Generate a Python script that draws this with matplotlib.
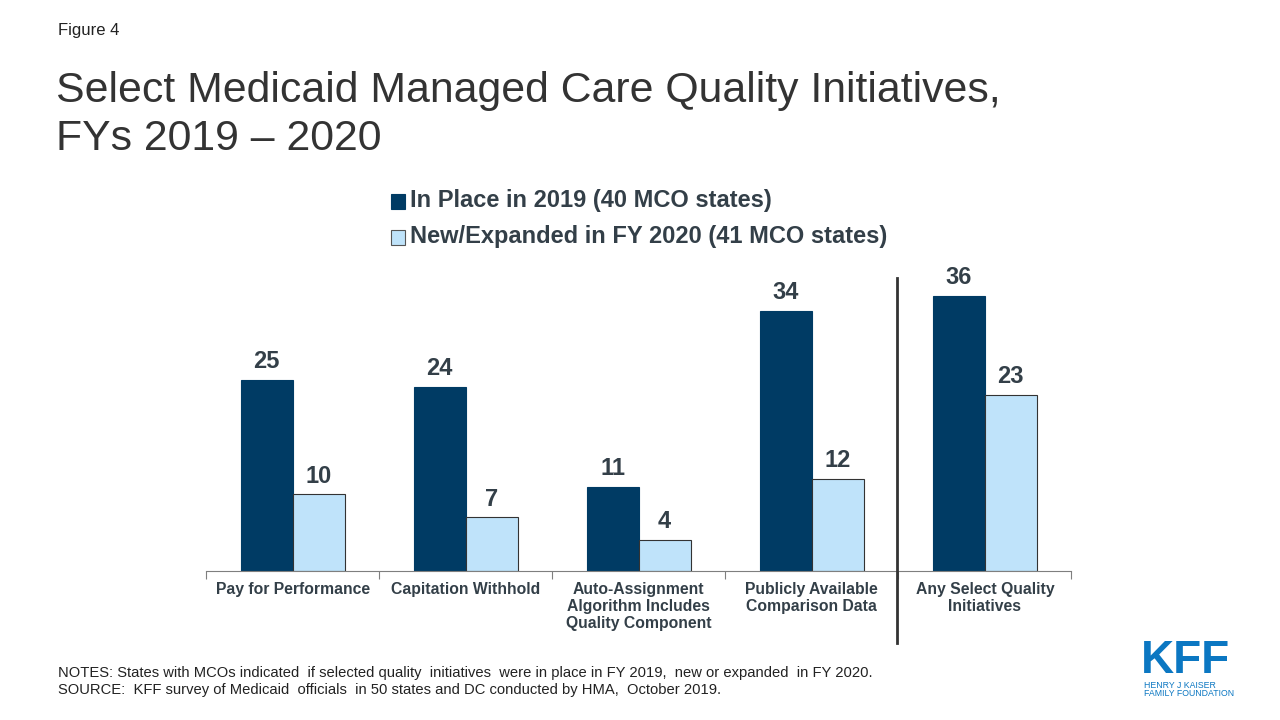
# Medicaid managed care quality initiatives - grouped bar chart
import matplotlib.pyplot as plt
import numpy as np

categories = ['Pay for Performance', 'Capitation Withhold',
              'Auto-Assignment\nAlgorithm Includes\nQuality Component',
              'Publicly Available\nComparison Data',
              'Any Select Quality\nInitiatives']
in_place_2019 = [25, 24, 11, 34, 36]
new_expanded_2020 = [10, 7, 4, 12, 23]
series_labels = ['In Place in 2019 (40 MCO states)',
                 'New/Expanded in FY 2020 (41 MCO states)']

DARK = '#003B64'
LIGHT = '#BFE3FA'
TEXT = '#333F48'
SANS = ['Liberation Sans', 'DejaVu Sans']


def main():
    plt.rcParams['font.family'] = SANS
    fig = plt.figure(figsize=(12.8, 7.2), dpi=100)
    ax = fig.add_axes([0.161, 0.207, 0.676, 0.425])

    x = np.arange(len(categories))
    width = 0.30
    ax.bar(x - width / 2, in_place_2019, width, color=DARK, edgecolor=DARK, linewidth=0.8)
    ax.bar(x + width / 2, new_expanded_2020, width, color=LIGHT, edgecolor='#333333', linewidth=0.8)

    for xi, v in zip(x, in_place_2019):
        ax.text(xi - width / 2, v + 0.9, str(v), ha='center', va='bottom',
                fontsize=17, fontweight='bold', color=TEXT)
    for xi, v in zip(x, new_expanded_2020):
        ax.text(xi + width / 2, v + 0.9, str(v), ha='center', va='bottom',
                fontsize=17, fontweight='bold', color=TEXT)

    ax.set_xlim(-0.5, len(categories) - 0.5)
    ax.set_ylim(0, 40)
    ax.set_yticks([])
    for s in ['top', 'right', 'left']:
        ax.spines[s].set_visible(False)
    ax.spines['bottom'].set_color('#7f7f7f')
    ax.set_xticks(np.arange(-0.5, len(categories)))
    ax.set_xticklabels([])
    ax.tick_params(axis='x', length=6, color='#7f7f7f')
    for xi, lab in zip(x, categories):
        ax.text(xi, -1.4, lab, ha='center', va='top', fontsize=11.3,
                fontweight='bold', color=TEXT, linespacing=1.2)

    # separator between the individual initiatives and the total
    fig.add_artist(plt.Line2D([897 / 1280, 897 / 1280], [1 - 278 / 720, 1 - 643 / 720],
                              color='#333333', linewidth=2))

    # legend
    for i, (lab, col) in enumerate(zip(series_labels, [DARK, LIGHT])):
        yy = 1 - (201 + 36 * i) / 720
        fig.patches.append(plt.Rectangle((391 / 1280, yy - 0.0105), 14 / 1280, 15 / 720,
                                         transform=fig.transFigure, facecolor=col,
                                         edgecolor='#555555' if i else col, linewidth=0.8))
        fig.text(410 / 1280, yy, lab, fontsize=17, fontweight='bold', color=TEXT,
                 va='center', ha='left')

    fig.text(58 / 1280, 1 - 30 / 720, 'Figure 4', fontsize=12, color='#222222', va='center')
    fig.text(56 / 1280, 1 - 71 / 720, 'Select Medicaid Managed Care Quality Initiatives,\nFYs 2019 \u2013 2020',
             fontsize=30.8, color='#333333', va='top', ha='left', linespacing=1.26)

    fig.text(58 / 1280, 1 - 673 / 720,
             'NOTES: States with MCOs indicated  if selected quality  initiatives  were in place in FY 2019,  new or expanded  in FY 2020.',
             fontsize=10.6, color='#222222', va='center')
    fig.text(58 / 1280, 1 - 690 / 720,
             'SOURCE:  KFF survey of Medicaid  officials  in 50 states and DC conducted by HMA,  October 2019.',
             fontsize=10.6, color='#222222', va='center')

    # KFF logo
    fig.text(1141 / 1280, 1 - 683 / 720, 'KFF', fontsize=33, fontweight='bold',
             color='#0B77C2', va='bottom', ha='left')
    fig.text(1144 / 1280, 1 - 685 / 720, 'HENRY J KAISER', fontsize=6.3,
             color='#0B77C2', va='center', ha='left')
    fig.text(1144 / 1280, 1 - 694 / 720, 'FAMILY FOUNDATION', fontsize=6.3,
             color='#0B77C2', va='center', ha='left')

    fig.savefig('out.png', dpi=100, facecolor='white')


if __name__ == '__main__':
    main()
